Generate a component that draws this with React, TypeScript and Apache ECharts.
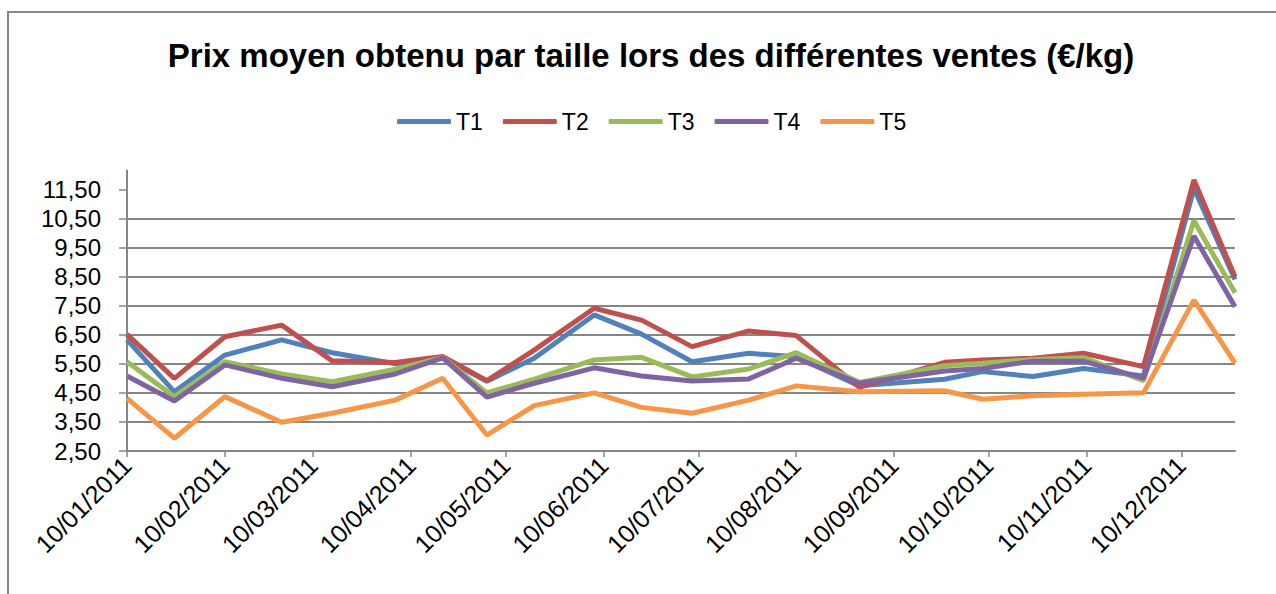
import React, { useEffect, useRef } from "react";
import * as echarts from "echarts";

const saleDates = [
  "2011-01-10", "2011-01-25", "2011-02-10", "2011-02-28", "2011-03-16", "2011-04-05",
  "2011-04-20", "2011-05-04", "2011-05-19", "2011-06-07", "2011-06-22", "2011-07-08",
  "2011-07-26", "2011-08-10", "2011-08-30", "2011-09-26", "2011-10-08", "2011-10-24",
  "2011-11-09", "2011-11-28", "2011-12-14", "2011-12-27",
];

const t1 = [6.32, 4.54, 5.80, 6.32, 5.88, 5.50, 5.72, 4.90, 5.69, 7.18, 6.52, 5.57, 5.86, 5.74, 4.74, 4.97, 5.23, 5.06, 5.34, 5.08, 11.53, 8.40];
const t2 = [6.51, 5.00, 6.43, 6.83, 5.60, 5.54, 5.75, 4.92, 5.97, 7.41, 7.00, 6.09, 6.63, 6.47, 4.69, 5.55, 5.63, 5.69, 5.86, 5.40, 11.82, 8.49];
const t3 = [5.57, 4.37, 5.57, 5.15, 4.88, 5.31, 5.72, 4.50, 4.97, 5.63, 5.72, 5.05, 5.32, 5.88, 4.86, 5.43, 5.52, 5.65, 5.71, 4.92, 10.42, 7.94];
const t4 = [5.08, 4.22, 5.46, 5.00, 4.71, 5.15, 5.70, 4.35, 4.83, 5.36, 5.08, 4.91, 4.98, 5.69, 4.83, 5.25, 5.34, 5.59, 5.59, 5.00, 9.89, 7.46];
const t5 = [4.31, 2.94, 4.37, 3.49, 3.80, 4.25, 5.00, 3.05, 4.06, 4.50, 4.00, 3.80, 4.25, 4.74, 4.54, 4.57, 4.28, 4.40, 4.45, 4.50, 7.69, 5.52];

const seriesNames = ["T1", "T2", "T3", "T4", "T5"];
const seriesColors = ["#4F81BD", "#C0504D", "#9BBB59", "#8064A2", "#F79646"];

const xTickDates = [
  "2011-01-10", "2011-02-10", "2011-03-10", "2011-04-10", "2011-05-10", "2011-06-10",
  "2011-07-10", "2011-08-10", "2011-09-10", "2011-10-10", "2011-11-10", "2011-12-10",
];
const yTicks = [2.5, 3.5, 4.5, 5.5, 6.5, 7.5, 8.5, 9.5, 10.5, 11.5];

const titleText = "Prix moyen obtenu par taille lors des différentes ventes (€/kg)";

const DAY = 86400000;
function utc(s: string): number {
  const [y, m, d] = s.split("-").map(Number);
  return Date.UTC(y, m - 1, d);
}
const origin = utc(saleDates[0]);
function dayOf(s: string): number {
  return Math.round((utc(s) - origin) / DAY);
}
function pad(n: number): string {
  return n < 10 ? "0" + n : String(n);
}
function fmtDay(v: number): string {
  const d = new Date(origin + Math.round(v) * DAY);
  return pad(d.getUTCDate()) + "/" + pad(d.getUTCMonth() + 1) + "/" + d.getUTCFullYear();
}

const FONT = "'Liberation Sans', Arial, sans-serif";

export default function App() {
  const ref = useRef<HTMLDivElement>(null);
  useEffect(() => {
    if (!ref.current) return;
    const chart = echarts.init(ref.current, null, { renderer: "svg" });
    const all = [t1, t2, t3, t4, t5];
    const grey = "#868686";
    const xTicks = xTickDates.map(dayOf);
    chart.setOption({
      animation: false,
      backgroundColor: "#ffffff",
      title: {
        text: titleText,
        left: 646,
        textAlign: "center",
        top: 34,
        textStyle: { fontFamily: FONT, fontSize: 33, fontWeight: "bold", color: "#000" },
      },
      legend: {
        left: 392,
        top: 105,
        itemWidth: 54,
        itemHeight: 5,
        itemGap: 20,
        icon: "roundRect",
        textStyle: { fontFamily: FONT, fontSize: 23, color: "#000" },
        data: seriesNames,
      },
      graphic: [
        {
          type: "rect",
          shape: { x: 8, y: 12, width: 1300, height: 700 },
          style: { fill: "none", stroke: grey, lineWidth: 2 },
          silent: true,
        },
      ],
      grid: { left: 127, right: 41, top: 170.4, bottom: 143 },
      xAxis: {
        type: "value",
        min: 0,
        max: dayOf(saleDates[saleDates.length - 1]),
        axisLine: { show: true, lineStyle: { color: grey, width: 2 } },
        axisTick: {
          show: true,
          length: 6,
          lineStyle: { color: grey, width: 1.5 },
          customValues: xTicks,
        },
        axisLabel: {
          customValues: xTicks,
          rotate: 45,
          margin: 10,
          fontFamily: FONT,
          fontSize: 25,
          color: "#000",
          formatter: (v: number) => fmtDay(v),
        },
        splitLine: { show: false },
      },
      yAxis: {
        type: "value",
        min: 2.5,
        max: 12.15,
        interval: 1,
        axisLine: { show: true, lineStyle: { color: grey, width: 2 } },
        axisTick: {
          show: true,
          length: 8,
          lineStyle: { color: grey, width: 1.5 },
          customValues: yTicks,
        },
        axisLabel: {
          customValues: yTicks,
          margin: 26,
          fontFamily: FONT,
          fontSize: 24,
          color: "#000",
          formatter: (v: number) => v.toFixed(2).replace(".", ","),
        },
        splitLine: { show: true, showMaxLine: false, lineStyle: { color: grey, width: 2 } },
      },
      series: seriesNames.map((name, i) => ({
        name,
        type: "line",
        symbol: "none",
        color: seriesColors[i],
        lineStyle: { width: 5, color: seriesColors[i] },
        data: saleDates.map((d, j) => [dayOf(d), all[i][j]]),
      })),
    });
    return () => chart.dispose();
  }, []);
  return (
    <div
      ref={ref}
      style={{ position: "fixed", left: 0, top: 0, width: 1276, height: 594 }}
    />
  );
}
